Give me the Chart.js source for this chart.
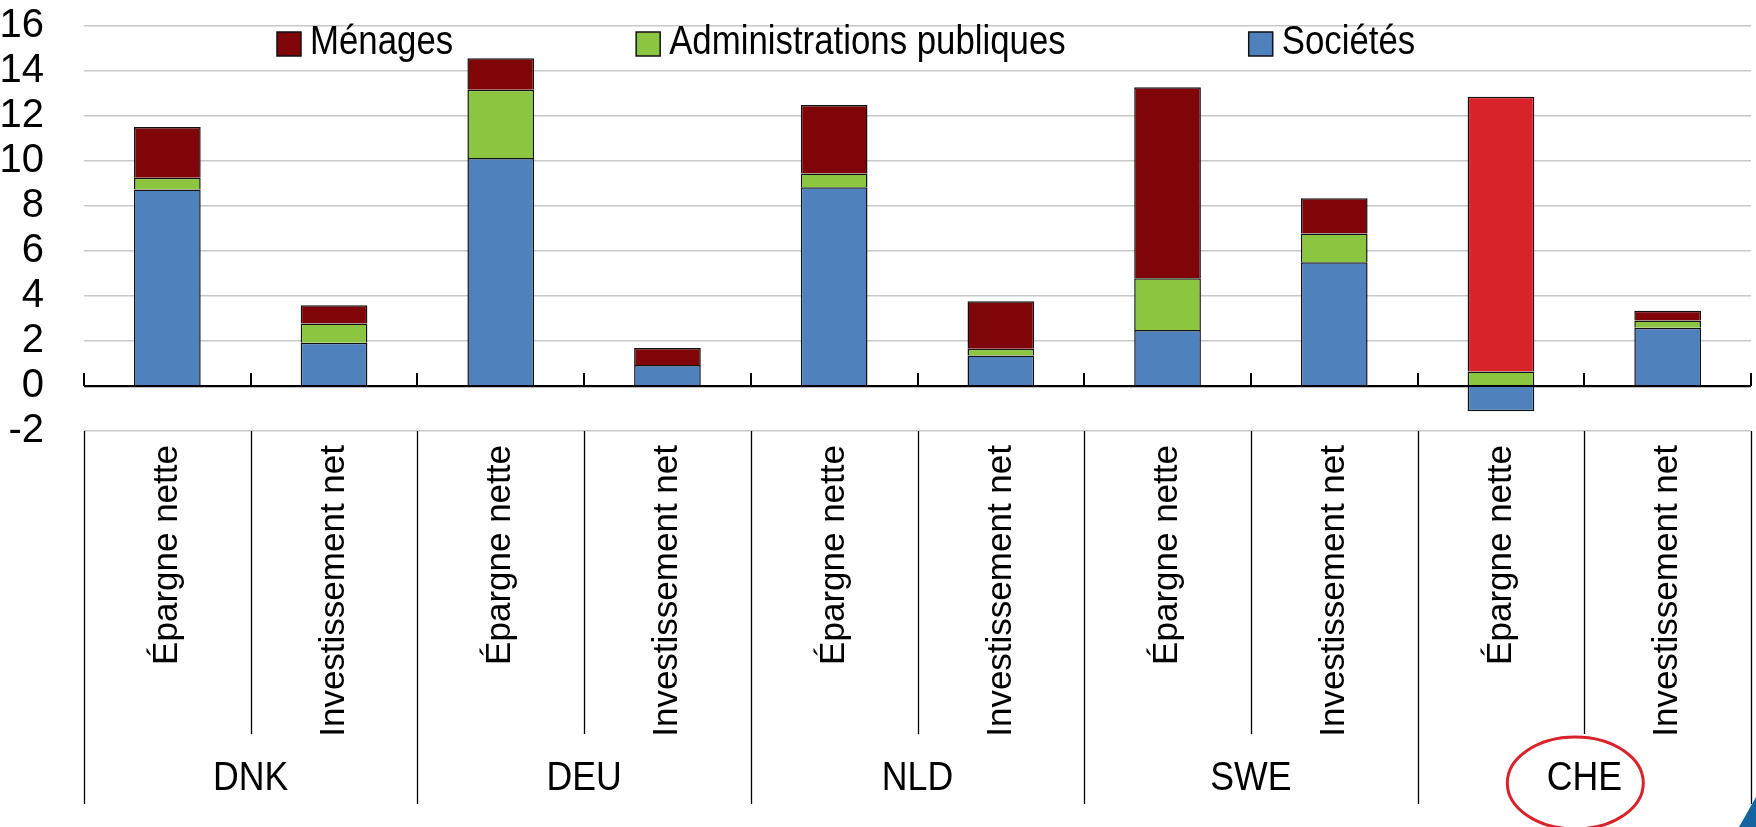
<!DOCTYPE html>
<html lang="fr">
<head>
<meta charset="utf-8">
<title>Épargne nette et investissement net</title>
<script src="https://cdn.jsdelivr.net/npm/chart.js@4.4.1/dist/chart.umd.min.js"></script>
<style>
  html, body { margin: 0; padding: 0; background: #fff; }
  canvas { display: block; }
</style>
</head>
<body>
<canvas id="graphique" width="1756" height="827"></canvas>
<script>
// Données (% du PIB)
const pays = ['DNK', 'DEU', 'NLD', 'SWE', 'CHE'];
const postes = ['Épargne nette', 'Investissement net'];
const categories = pays.flatMap(p => postes.map(poste => p + ' ' + poste));
const menages = [2.25, 0.81, 1.40, 0.76, 3.05, 2.11, 8.49, 1.56, 12.22, 0.43];
const administrations = [0.53, 0.86, 3.04, -0.04, 0.61, 0.30, 2.30, 1.28, 0.64, 0.32];
const societes = [8.73, 1.92, 10.13, 0.93, 8.83, 1.36, 2.49, 5.50, -1.12, 2.59];
const yTicks = [-2, 0, 2, 4, 6, 8, 10, 12, 14, 16];
const paysSouligne = 'CHE';

const police = '"Liberation Sans", Arial, sans-serif';
const etroit = 0.87; // pas de police étroite installée : on tasse le texte

const couleurs = {
    menages: '#7f0508',
    menagesSouligne: '#d9232a',
    administrations: '#8cc641',
    societes: '#4f81bd'
};

// la barre "Épargne nette" du pays souligné est en rouge vif
const couleursMenages = categories.map((c, i) =>
    pays[Math.floor(i / postes.length)] === paysSouligne && i % postes.length === 0
        ? couleurs.menagesSouligne : couleurs.menages);

function texteEtroit(ctx, texte, x, y) {
    ctx.save();
    ctx.translate(x, y);
    ctx.scale(etroit, 1);
    ctx.fillText(texte, 0, 0);
    ctx.restore();
}

// Légende dessinée à la main, posée dans la zone du graphique
const legende = {
    id: 'legende',
    afterDraw(chart) {
        const { ctx, chartArea } = chart;
        const items = chart.data.datasets.slice().reverse();
        let x = chartArea.left + 193;
        const y = chartArea.top + 18;
        ctx.save();
        ctx.font = '40px ' + police;
        ctx.textBaseline = 'middle';
        ctx.textAlign = 'left';
        items.forEach(ds => {
            ctx.fillStyle = ds.couleurLegende;
            ctx.fillRect(x, y - 12, 24, 24);
            ctx.strokeStyle = '#111';
            ctx.lineWidth = 1.5;
            ctx.strokeRect(x, y - 12, 24, 24);
            ctx.fillStyle = '#000';
            texteEtroit(ctx, ds.label, x + 33, y - 1);
            x += 33 + ctx.measureText(ds.label).width * etroit + 183;
        });
        ctx.restore();
    }
};

// Tableau sous l'axe : séparateurs, noms de pays, petits traits sur l'axe zéro
const tableau = {
    id: 'tableau',
    beforeDatasetsDraw(chart) {
        const { ctx, scales: { x, y } } = chart;
        const n = categories.length;
        const pas = (x.right - x.left) / n;
        const y0 = y.getPixelForValue(0);
        ctx.save();
        ctx.strokeStyle = '#000';
        ctx.lineWidth = 2;
        for (let i = 0; i <= n; i++) {
            const xi = Math.round(x.left + i * pas);
            ctx.beginPath();
            ctx.moveTo(xi, y0);
            ctx.lineTo(xi, y0 - 13);
            ctx.stroke();
        }
        ctx.restore();
    },
    afterDraw(chart) {
        const { ctx, chartArea, scales: { x } } = chart;
        const n = categories.length;
        const pas = (x.right - x.left) / n;
        const h = chart.height;
        ctx.save();
        ctx.strokeStyle = '#000';
        ctx.lineWidth = 1.3;
        for (let i = 0; i <= n; i++) {
            const xi = Math.min(Math.round(x.left + i * pas) + 0.5, chart.width - 4);
            const bas = i % postes.length === 0 ? h - 23 : h - 93;
            ctx.beginPath();
            ctx.moveTo(xi, chartArea.bottom);
            ctx.lineTo(xi, bas);
            ctx.stroke();
        }
        ctx.font = '41px ' + police;
        ctx.fillStyle = '#000';
        ctx.textAlign = 'center';
        ctx.textBaseline = 'middle';
        pays.forEach((p, g) => {
            const xc = x.left + (g * postes.length + postes.length / 2) * pas;
            texteEtroit(ctx, p, xc, h - 48);
            if (p === paysSouligne) {
                ctx.beginPath();
                ctx.ellipse(xc - 9, h - 44, 68, 46, 0, 0, Math.PI * 2);
                ctx.strokeStyle = couleurs.menagesSouligne;
                ctx.lineWidth = 3;
                ctx.stroke();
            }
        });
        // coin bleu en bas à droite
        ctx.beginPath();
        ctx.moveTo(chart.width - 17, h);
        ctx.lineTo(chart.width, h - 30);
        ctx.lineTo(chart.width, h);
        ctx.closePath();
        ctx.fillStyle = '#15649f';
        ctx.fill();
        ctx.restore();
    }
};

const ctx = document.getElementById('graphique').getContext('2d');

new Chart(ctx, {
    type: 'bar',
    data: {
        labels: categories,
        datasets: [{
            label: 'Sociétés',
            data: societes,
            backgroundColor: couleurs.societes,
            couleurLegende: couleurs.societes,
            borderColor: '#111',
            borderWidth: 1.5
        }, {
            label: 'Administrations publiques',
            data: administrations,
            backgroundColor: couleurs.administrations,
            couleurLegende: couleurs.administrations,
            borderColor: '#111',
            borderWidth: 1.5
        }, {
            label: 'Ménages',
            data: menages,
            backgroundColor: couleursMenages,
            couleurLegende: couleurs.menages,
            borderColor: '#111',
            borderWidth: 1.5
        }]
    },
    options: {
        responsive: false,
        animation: false,
        barPercentage: 0.4,
        categoryPercentage: 1,
        layout: {
            padding: { top: 26, right: 5, bottom: 0, left: 0 }
        },
        scales: {
            x: {
                stacked: true,
                border: { display: false },
                grid: { display: false, drawTicks: false },
                afterFit: axis => {
                    axis.height = 396;
                    axis.paddingLeft = 0;
                    axis.paddingRight = 0;
                },
                ticks: {
                    autoSkip: false,
                    minRotation: 90,
                    maxRotation: 90,
                    padding: 14,
                    color: '#000',
                    font: { family: police, size: 35 },
                    callback: function(value, index) {
                        return postes[index % postes.length];
                    }
                }
            },
            y: {
                stacked: true,
                min: yTicks[0],
                max: yTicks[yTicks.length - 1],
                border: { display: false },
                grid: {
                    drawTicks: false,
                    color: c => c.tick.value === 0 ? '#000' : '#c8c8c8',
                    lineWidth: c => c.tick.value === 0 ? 2.2 : 1.5
                },
                afterBuildTicks: axis => {
                    axis.ticks = yTicks.map(v => ({ value: v }));
                },
                afterFit: axis => {
                    axis.width = 84;
                    axis.paddingTop = 0;
                    axis.paddingBottom = 0;
                },
                ticks: {
                    autoSkip: false,
                    padding: 40,
                    color: '#000',
                    font: { family: police, size: 40 }
                }
            }
        },
        plugins: {
            legend: { display: false },
            tooltip: { enabled: false }
        }
    },
    plugins: [legende, tableau]
});
</script>
</body>
</html>
